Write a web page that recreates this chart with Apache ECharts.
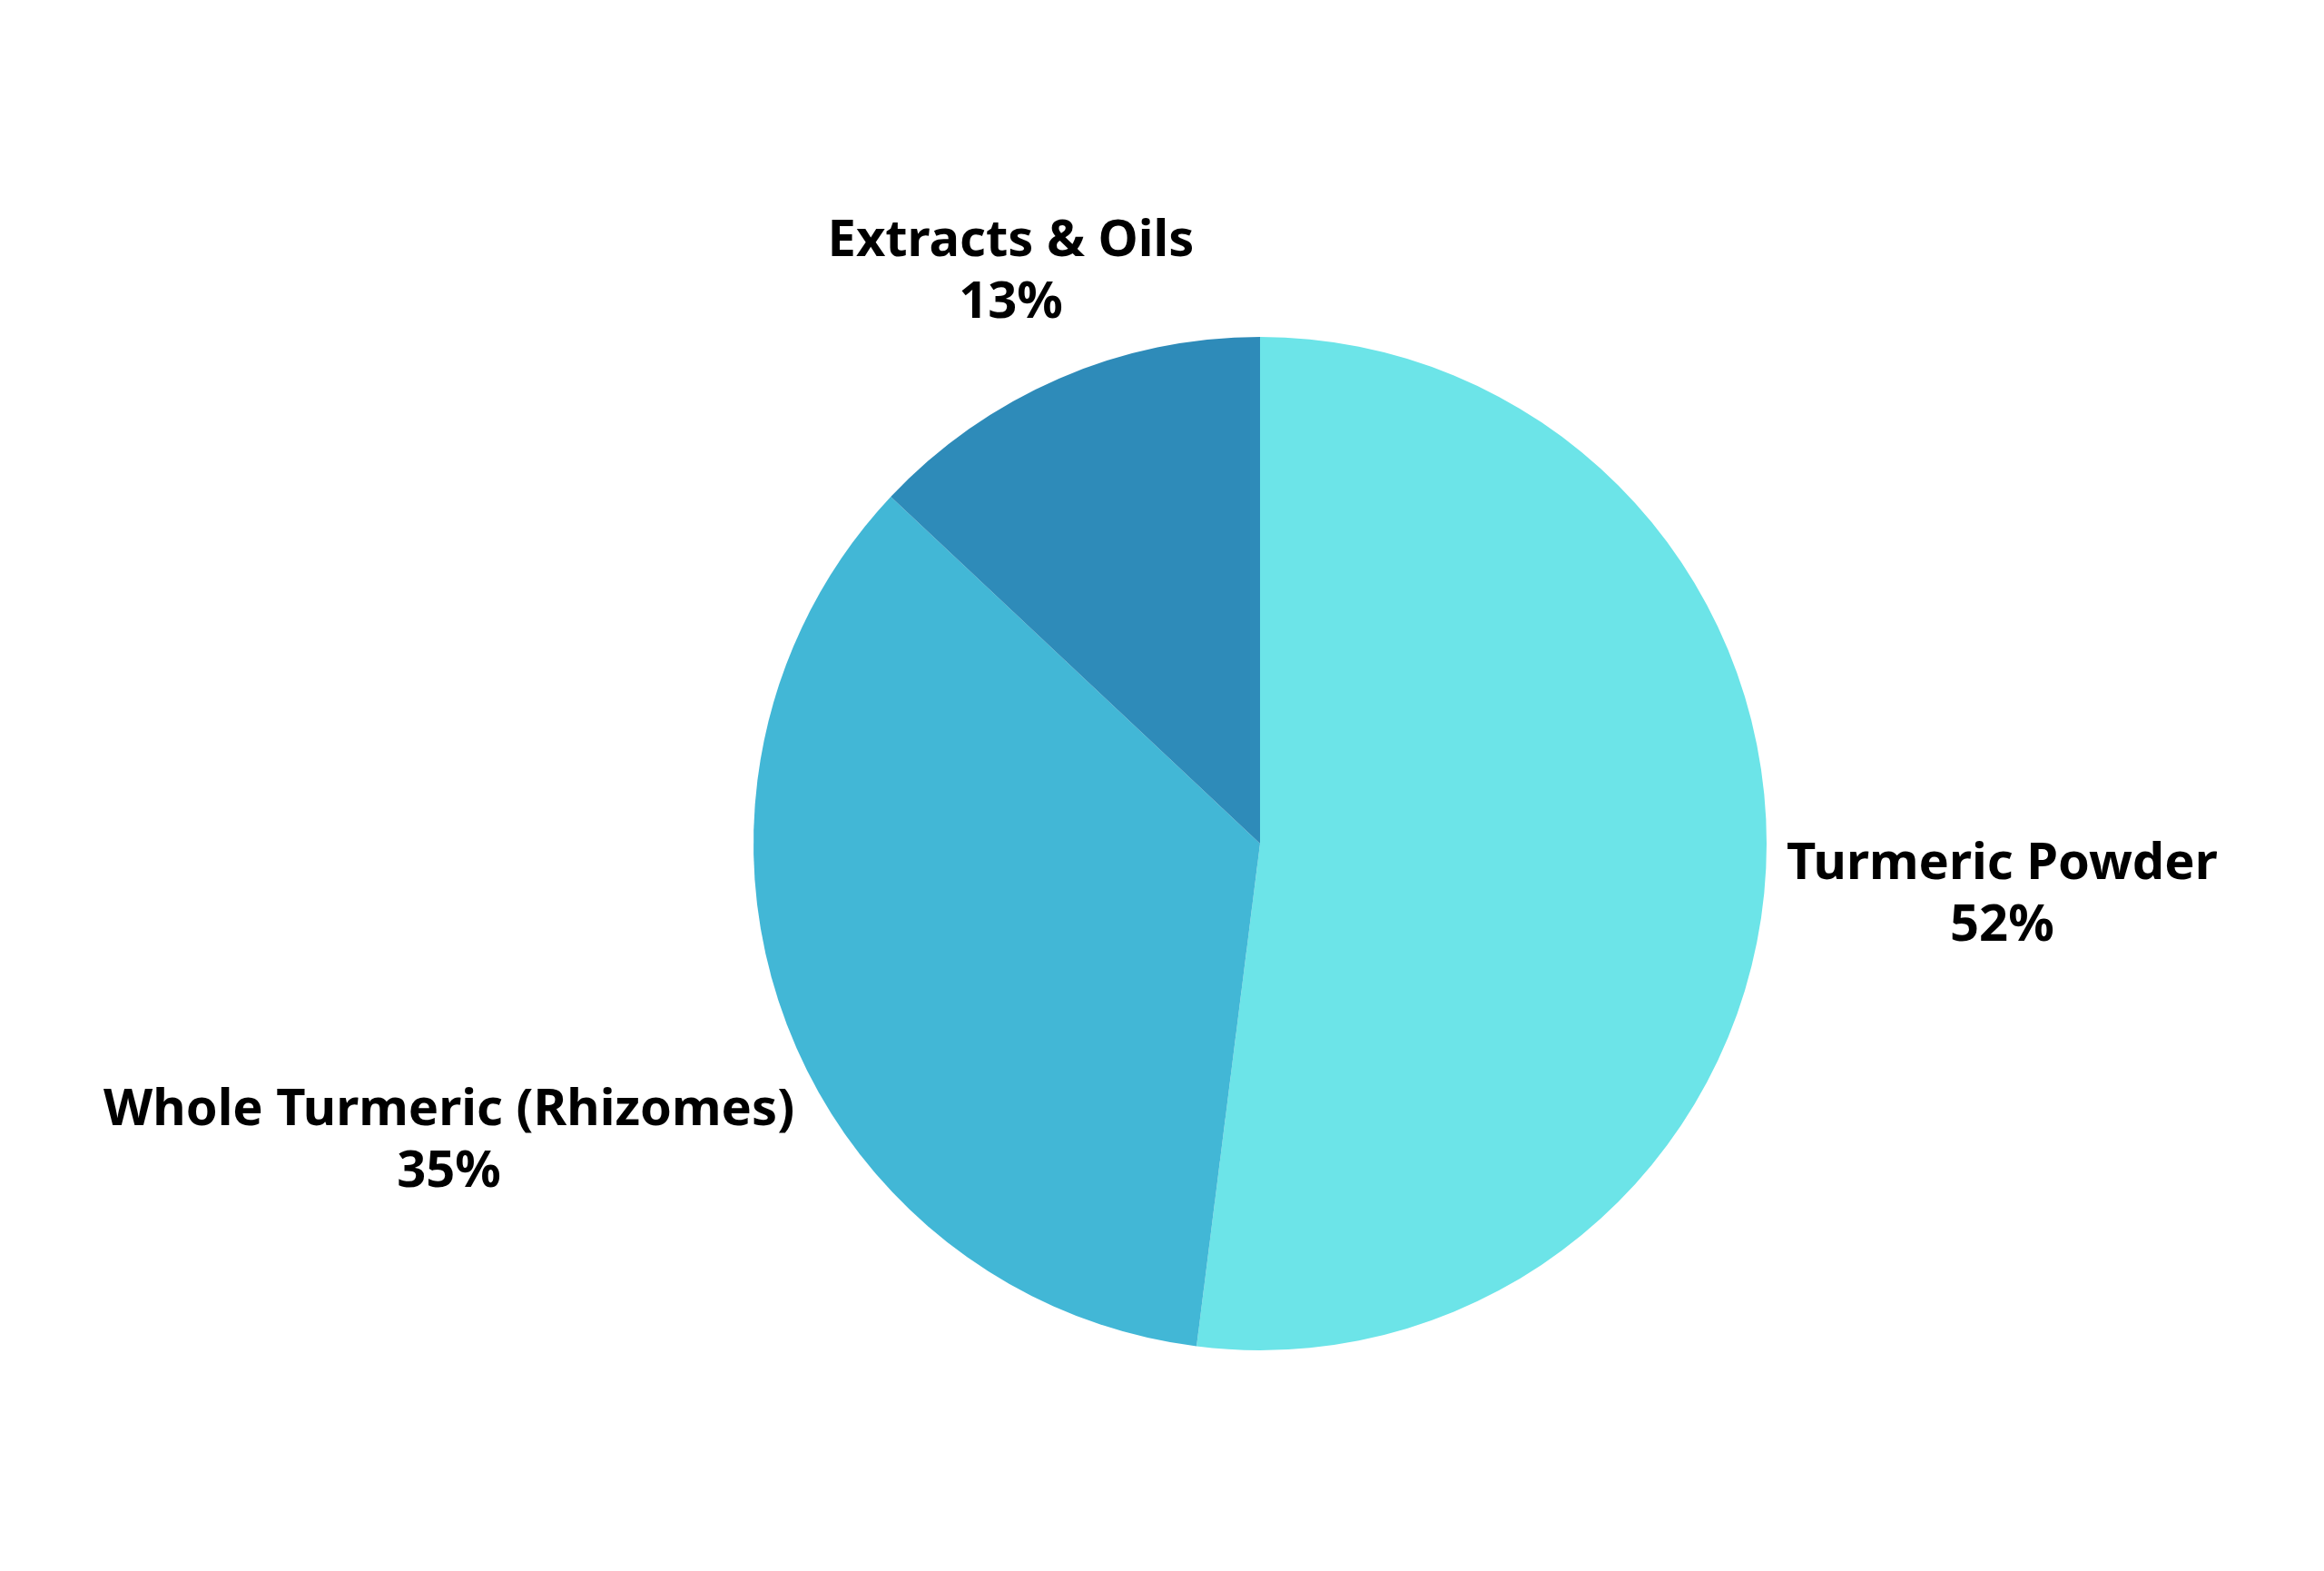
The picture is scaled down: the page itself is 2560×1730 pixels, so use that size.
<!DOCTYPE html>
<html>
<head>
<meta charset="utf-8">
<style>
  html, body { margin: 0; padding: 0; background: #ffffff; }
  #chart { width: 2560px; height: 1730px; }
</style>
<script src="https://cdn.jsdelivr.net/npm/echarts@6/dist/echarts.min.js"></script>
</head>
<body>
<div id="chart"></div>
<script>
const categories = ['Turmeric Powder', 'Whole Turmeric (Rhizomes)', 'Extracts & Oils'];
const values = [52, 35, 13];
const colors = ['#6CE4E8', '#42B7D6', '#2E8BB9'];

const CX = 1388, CY = 929, R = 558, GAP = 22;
const total = values.reduce((a, b) => a + b, 0);
const cum = [];
values.reduce((acc, v, i) => { cum[i] = acc; return acc + v; }, 0);

const chart = echarts.init(document.getElementById('chart'), null, { renderer: 'canvas' });
chart.setOption({
  animation: false,
  backgroundColor: '#ffffff',
  series: [{
    type: 'pie',
    center: [CX, CY],
    radius: R,
    startAngle: 90,
    clockwise: true,
    avoidLabelOverlap: false,
    data: categories.map((c, i) => ({ name: c, value: values[i], itemStyle: { color: colors[i] } })),
    itemStyle: { borderWidth: 0 },
    label: {
      show: true,
      position: 'outside',
      formatter: '{b}\n{d}%',
      fontFamily: 'Noto Sans',
      fontWeight: 'bold',
      fontSize: 56,
      lineHeight: 68,
      color: '#000000',
      align: 'center'
    },
    labelLine: { show: false },
    labelLayout: function (p) {
      const i = p.dataIndex;
      const mid = (cum[i] + values[i] / 2) / total * Math.PI * 2;
      const dx = Math.sin(mid), dy = -Math.cos(mid);
      const w = p.labelRect.width, h = p.labelRect.height;
      const d = R + GAP + Math.abs(dx) * w / 2 + Math.abs(dy) * h * 0.25;
      return { x: CX + dx * d, y: CY + dy * d + 6, align: 'center', verticalAlign: 'middle' };
    },
    emphasis: { disabled: true }
  }]
});
</script>
</body>
</html>
